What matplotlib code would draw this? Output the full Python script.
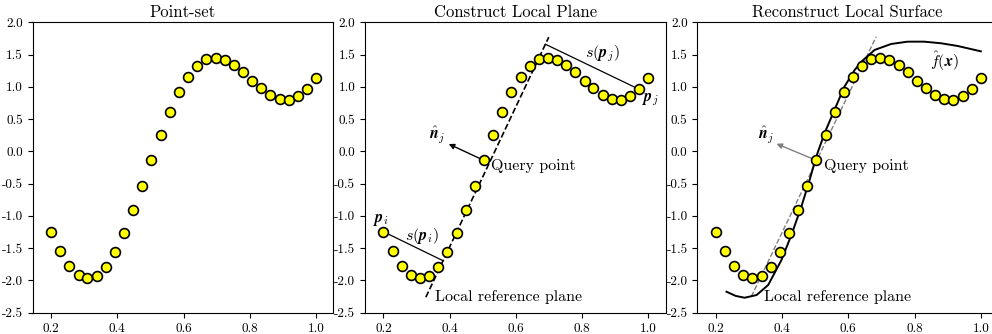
import matplotlib
matplotlib.use("Agg")
import matplotlib.pyplot as plt

plt.rcParams["font.family"] = "serif"
plt.rcParams["font.serif"] = ["cmr10", "DejaVu Serif"]
plt.rcParams["mathtext.fontset"] = "cm"
plt.rcParams["axes.unicode_minus"] = False
plt.rcParams["axes.formatter.use_mathtext"] = False

# sample points
xs = [0.200, 0.228, 0.255, 0.283, 0.310, 0.338, 0.366, 0.393, 0.421, 0.448,
      0.476, 0.503, 0.531, 0.559, 0.586, 0.614, 0.641, 0.669, 0.697, 0.724,
      0.752, 0.779, 0.807, 0.834, 0.862, 0.890, 0.917, 0.945, 0.972, 1.000]
ys = [-1.245, -1.544, -1.772, -1.921, -1.968, -1.927, -1.787, -1.565, -1.271, -0.914,
      -0.532, -0.139, 0.253, 0.604, 0.914, 1.152, 1.322, 1.426, 1.451, 1.420,
      1.338, 1.224, 1.095, 0.976, 0.873, 0.811, 0.801, 0.852, 0.961, 1.131]

query_idx = 11
pi_idx = 0
pj_idx = 28

# local reference plane (end points) and feet of the distance segments
plane_x = [0.328, 0.699]
plane_y = [-2.26, 1.77]
foot_i = (0.378, -1.69)
foot_j = (0.689, 1.66)
normal_tip = (0.397, 0.114)

# plane and normal as drawn in the reconstruction panel
plane3_x = [0.307, 0.684]
plane3_y = [-2.25, 1.777]
normal3_tip = (0.383, 0.118)

# fitted local surface f(x)
fx = [0.232, 0.260, 0.287, 0.323, 0.358, 0.398, 0.428, 0.458, 0.483, 0.503,
      0.528, 0.558, 0.588, 0.619, 0.639, 0.679, 0.729, 0.779, 0.829, 0.880,
      0.930, 1.000]
fy = [-2.175, -2.240, -2.268, -2.226, -2.071, -1.684, -1.296, -0.858, -0.444, -0.083,
      0.280, 0.641, 1.002, 1.261, 1.389, 1.571, 1.664, 1.700, 1.700, 1.675,
      1.633, 1.550]

titles = ["Point-set", "Construct Local Plane", "Reconstruct Local Surface"]

W, H = 992, 334
fig = plt.figure(figsize=(W / 100, H / 100), dpi=100)
lefts = [32.5, 364.9, 697.3]
axes = []
for left in lefts:
    ax = fig.add_axes([left / W, (H - 312.7) / H, 300.8 / W, 290.4 / H])
    axes.append(ax)

for ax, title in zip(axes, titles):
    ax.scatter(xs, ys, s=50, c="#ffff00", edgecolors="k", linewidths=1.2, zorder=3)
    ax.set_xlim(0.144, 1.052)
    ax.set_ylim(-2.5, 2.0)
    ax.set_xticks([0.2, 0.4, 0.6, 0.8, 1.0])
    ax.set_yticks([-2.5, -2.0, -1.5, -1.0, -0.5, 0.0, 0.5, 1.0, 1.5, 2.0])
    ax.tick_params(labelsize=9.5)
    ax.set_title(title, fontsize=12, pad=4)

qx, qy = xs[query_idx], ys[query_idx]
txt = 11.5

# --- Construct Local Plane ---
ax = axes[1]
ax.plot(plane_x, plane_y, "k--", lw=1.2, zorder=2)
ax.plot([xs[pi_idx], foot_i[0]], [ys[pi_idx], foot_i[1]], "k-", lw=0.9, zorder=2)
ax.plot([xs[pj_idx], foot_j[0]], [ys[pj_idx], foot_j[1]], "k-", lw=0.9, zorder=2)
ax.annotate("", xy=normal_tip, xytext=(qx, qy),
            arrowprops=dict(arrowstyle="-|>", color="k", lw=1.0,
                            mutation_scale=8, shrinkA=0, shrinkB=0), zorder=2)
ax.text(0.363, 0.254, r"$\hat{\boldsymbol{n}}_j$", fontsize=txt, ha="center", va="center")
ax.text(0.526, -0.222, "Query point", fontsize=txt, ha="left", va="center")
ax.text(0.356, -2.252, "Local reference plane", fontsize=txt, ha="left", va="center")
ax.text(0.192, -1.064, r"$\boldsymbol{p}_i$", fontsize=txt, ha="center", va="center")
ax.text(0.316, -1.312, r"$s(\boldsymbol{p}_i)$", fontsize=txt, ha="center", va="center")
ax.text(0.861, 1.52, r"$s(\boldsymbol{p}_j)$", fontsize=txt, ha="center", va="center")
ax.text(1.007, 0.796, r"$\boldsymbol{p}_j$", fontsize=txt, ha="center", va="center")

# --- Reconstruct Local Surface ---
ax = axes[2]
ax.plot(plane3_x, plane3_y, "--", color="gray", lw=1.0, zorder=2)
ax.plot(fx, fy, "k-", lw=1.4, zorder=2)
ax.annotate("", xy=normal3_tip, xytext=(qx, qy),
            arrowprops=dict(arrowstyle="-|>", color="gray", lw=1.0,
                            mutation_scale=8, shrinkA=0, shrinkB=0), zorder=2)
ax.text(0.352, 0.254, r"$\hat{\boldsymbol{n}}_j$", fontsize=txt, ha="center", va="center")
ax.text(0.525, -0.222, "Query point", fontsize=txt, ha="left", va="center")
ax.text(0.345, -2.252, "Local reference plane", fontsize=txt, ha="left", va="center")
ax.text(0.890, 1.39, r"$\hat{f}(\boldsymbol{x})$", fontsize=txt, ha="center", va="center")

fig.savefig("out.png", dpi=100)
